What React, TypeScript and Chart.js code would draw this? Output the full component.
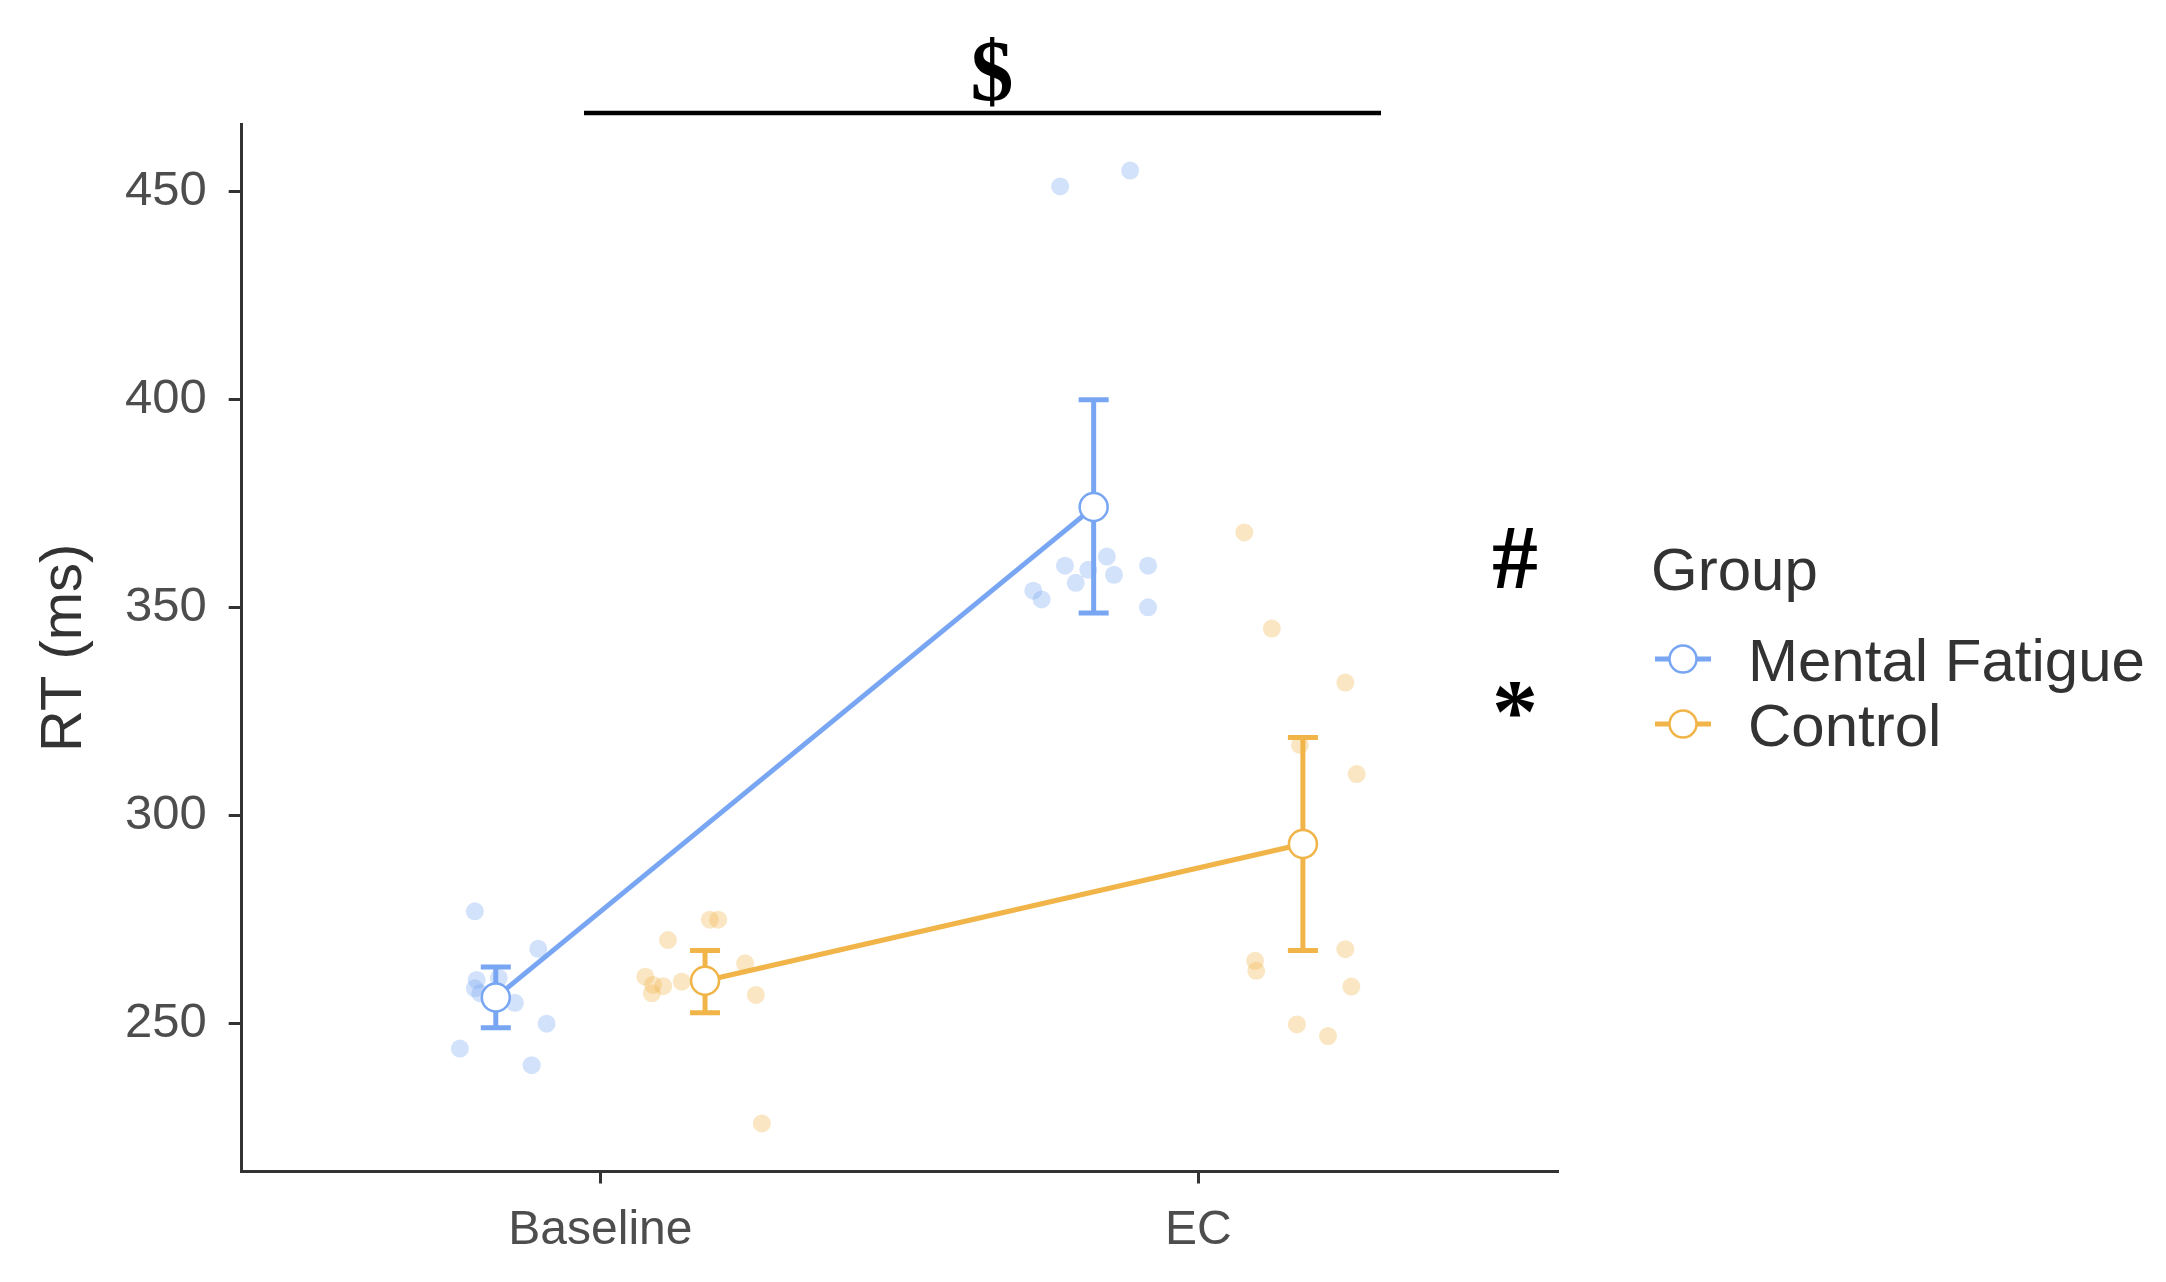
import React, { useEffect, useRef } from "react";
import { Chart, registerables } from "chart.js";

Chart.register(...registerables);

// ---- Data ----
const timepoints = ["Baseline", "EC"];
const groups = ["Mental Fatigue", "Control"];

const mfMean = [256.3, 374.2];
const mfLower = [249.0, 348.7];
const mfUpper = [263.6, 400.0];
const ctMean = [260.3, 293.2];
const ctLower = [252.6, 267.6];
const ctUpper = [267.6, 318.8];

// individual participants (RT) and their horizontal jitter
const mfBaselineRT = [277, 268, 260.5, 258.5, 257.3, 255, 250, 244, 240, 261, 256];
const mfBaselineJit = [-0.035, 0.071, -0.032, -0.035, -0.026, 0.032, 0.085, -0.06, 0.06, 0.005, -0.01];
const mfEcRT = [451.3, 455.1, 360.1, 359.1, 362.3, 357.9, 356.0, 354.1, 352.0, 360.1, 350.1];
const mfEcJit = [-0.056, 0.061, -0.048, -0.009, 0.022, 0.034, -0.03, -0.101, -0.087, 0.091, 0.091];
const ctBaselineRT = [275, 275, 270.1, 264.5, 261.3, 259.3, 259.0, 257.3, 260.1, 256.9, 226.0];
const ctBaselineJit = [0.008, 0.022, -0.062, 0.067, -0.1, -0.087, -0.07, -0.089, -0.039, 0.085, 0.095];
const ctEcRT = [368.1, 345.0, 332.0, 310.0, 317.0, 265.1, 262.7, 267.9, 258.9, 249.8, 247.0];
const ctEcJit = [-0.098, -0.052, 0.071, 0.09, -0.005, -0.08, -0.078, 0.071, 0.081, -0.01, 0.042];

const yTicks = [250, 300, 350, 400, 450];

const BLUE = "rgb(120,166,242)";
const BLUE_A = "rgba(120,166,242,0.33)";
const ORANGE = "rgb(240,180,72)";
const ORANGE_A = "rgba(240,180,72,0.33)";
const SANS = '"Liberation Sans", Arial, sans-serif';
const SERIF = '"Liberation Serif", "Times New Roman", serif';
const DODGE = 0.175;

function jitterPoints(rts: number[], jit: number[], t: number, off: number) {
  return rts.map((y, i) => ({ x: t + 1 + off + jit[i], y }));
}
function meanPoints(means: number[], off: number) {
  return means.map((y, i) => ({ x: i + 1 + off, y }));
}

export default function App() {
  const ref = useRef<HTMLCanvasElement>(null);

  useEffect(() => {
    document.body.style.margin = "0";
    const canvas = ref.current!;

    const errorBarPlugin = {
      id: "errorbars",
      beforeDatasetDraw(chart: any, args: any) {
        const ds = chart.data.datasets[args.index];
        if (!ds.errLow) return;
        const ctx = chart.ctx;
        const xs = chart.scales.x;
        const ys = chart.scales.y;
        ctx.save();
        ctx.strokeStyle = ds.borderColor;
        ctx.lineWidth = 5;
        ds.data.forEach((p: any, i: number) => {
          const px = xs.getPixelForValue(p.x);
          const lo = ys.getPixelForValue(ds.errLow[i]);
          const hi = ys.getPixelForValue(ds.errHigh[i]);
          ctx.beginPath();
          ctx.moveTo(px, lo);
          ctx.lineTo(px, hi);
          ctx.moveTo(px - 15, lo);
          ctx.lineTo(px + 15, lo);
          ctx.moveTo(px - 15, hi);
          ctx.lineTo(px + 15, hi);
          ctx.stroke();
        });
        ctx.restore();
      },
    };

    const annotPlugin = {
      id: "annots",
      afterDraw(chart: any) {
        const ctx = chart.ctx;
        ctx.save();
        // significance bar
        ctx.strokeStyle = "#000";
        ctx.lineWidth = 4.5;
        ctx.beginPath();
        ctx.moveTo(584, 113);
        ctx.lineTo(1381, 113);
        ctx.stroke();
        ctx.fillStyle = "#000";
        ctx.textAlign = "center";
        ctx.textBaseline = "alphabetic";
        ctx.font = `bold 86px ${SERIF}`;
        ctx.fillText("$", 992, 100);
        ctx.font = `bold 92px ${SERIF}`;
        ctx.fillText("#", 1515, 588);
        ctx.fillText("*", 1515, 742);

        // legend
        ctx.textAlign = "left";
        ctx.fillStyle = "#333";
        ctx.font = `60px ${SANS}`;
        ctx.fillText("Group", 1651, 590);
        const items = [
          { label: groups[0], color: BLUE, y: 659 },
          { label: groups[1], color: ORANGE, y: 724 },
        ];
        items.forEach((it) => {
          ctx.strokeStyle = it.color;
          ctx.lineWidth = 5;
          ctx.beginPath();
          ctx.moveTo(1655, it.y);
          ctx.lineTo(1711, it.y);
          ctx.stroke();
          ctx.beginPath();
          ctx.arc(1683, it.y, 13.5, 0, Math.PI * 2);
          ctx.fillStyle = "#fff";
          ctx.fill();
          ctx.lineWidth = 2.5;
          ctx.stroke();
          ctx.fillStyle = "#333";
          ctx.fillText(it.label, 1748, it.y + 22);
        });
        ctx.restore();
      },
    };

    const chart = new Chart(canvas, {
      type: "scatter",
      data: {
        datasets: [
          {
            label: "MF individual",
            data: [
              ...jitterPoints(mfBaselineRT, mfBaselineJit, 0, -DODGE),
              ...jitterPoints(mfEcRT, mfEcJit, 1, -DODGE),
            ],
            backgroundColor: BLUE_A,
            borderWidth: 0,
            pointRadius: 9,
            order: 4,
          },
          {
            label: "Control individual",
            data: [
              ...jitterPoints(ctBaselineRT, ctBaselineJit, 0, DODGE),
              ...jitterPoints(ctEcRT, ctEcJit, 1, DODGE),
            ],
            backgroundColor: ORANGE_A,
            borderWidth: 0,
            pointRadius: 9,
            order: 4,
          },
          {
            type: "line",
            label: "MF line",
            data: meanPoints(mfMean, -DODGE),
            borderColor: BLUE,
            borderWidth: 5,
            pointRadius: 0,
            fill: false,
            order: 3,
          },
          {
            type: "line",
            label: "Control line",
            data: meanPoints(ctMean, DODGE),
            borderColor: ORANGE,
            borderWidth: 5,
            pointRadius: 0,
            fill: false,
            order: 3,
          },
          {
            label: groups[0],
            data: meanPoints(mfMean, -DODGE),
            errLow: mfLower,
            errHigh: mfUpper,
            backgroundColor: "#fff",
            borderColor: BLUE,
            borderWidth: 2.5,
            pointRadius: 14,
            order: 1,
          } as any,
          {
            label: groups[1],
            data: meanPoints(ctMean, DODGE),
            errLow: ctLower,
            errHigh: ctUpper,
            backgroundColor: "#fff",
            borderColor: ORANGE,
            borderWidth: 2.5,
            pointRadius: 14,
            order: 1,
          } as any,
        ],
      },
      options: {
        responsive: false,
        animation: false,
        devicePixelRatio: 1,
        layout: { padding: { top: 124, right: 609, bottom: 0, left: 0 } },
        plugins: {
          legend: { display: false },
          tooltip: { enabled: false },
        },
        scales: {
          x: {
            type: "linear",
            min: 0.4,
            max: 2.6,
            afterBuildTicks: (s: any) => {
              s.ticks = [{ value: 1 }, { value: 2 }];
            },
            afterFit: (s: any) => {
              s.height = 110.5;
            },
            ticks: {
              callback: (v: any) => timepoints[Math.round(Number(v)) - 1] ?? "",
              font: { family: SANS, size: 48 },
              color: "#4d4d4d",
              padding: 18,
              autoSkip: false,
              maxRotation: 0,
            },
            grid: {
              display: true,
              drawOnChartArea: false,
              drawTicks: true,
              tickLength: 12,
              color: "#333",
              lineWidth: 3,
            },
            border: { display: true, color: "#333", width: 3 },
          },
          y: {
            type: "linear",
            min: 214.45,
            max: 466.3,
            afterBuildTicks: (s: any) => {
              s.ticks = yTicks.map((v) => ({ value: v }));
            },
            afterFit: (s: any) => {
              s.width = 241.7;
            },
            ticks: {
              font: { family: SANS, size: 49 },
              color: "#4d4d4d",
              padding: 22,
            },
            title: {
              display: true,
              text: "RT (ms)",
              font: { family: SANS, size: 58 },
              color: "#333",
              padding: { top: 30, bottom: 0 },
            },
            grid: {
              display: true,
              drawOnChartArea: false,
              drawTicks: true,
              tickLength: 13,
              color: "#333",
              lineWidth: 3,
            },
            border: { display: true, color: "#333", width: 3 },
          },
        },
      } as any,
      plugins: [errorBarPlugin, annotPlugin],
    });

    return () => chart.destroy();
  }, []);

  return (
    <div style={{ width: 2166, height: 1282, position: "relative", background: "#fff" }}>
      <canvas
        ref={ref}
        width={2166}
        height={1282}
        style={{ display: "block", width: 2166, height: 1282 }}
      />
    </div>
  );
}
